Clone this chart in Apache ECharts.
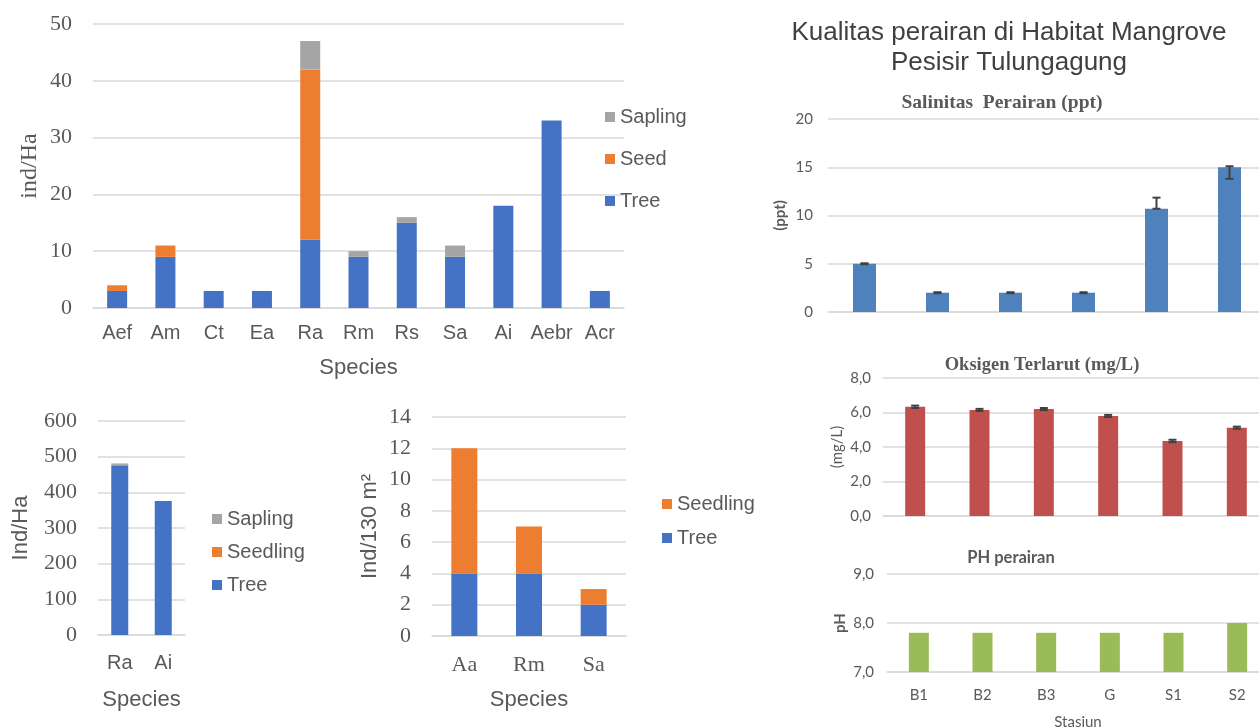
<!DOCTYPE html>
<html>
<head>
<meta charset="utf-8">
<script src="https://cdn.jsdelivr.net/npm/echarts@6/dist/echarts.min.js"></script>
<style>
  html, body { margin: 0; padding: 0; background: #fff; }
  #main { width: 1259px; height: 727px; }
</style>
</head>
<body>
<div id="main"></div>
<script>
// panel 1 - density per species
var species1 = ['Aef', 'Am', 'Ct', 'Ea', 'Ra', 'Rm', 'Rs', 'Sa', 'Ai', 'Aebr', 'Acr'];
var tree1 = [3, 9, 3, 3, 12, 9, 15, 9, 18, 33, 3];
var seed1 = [1, 2, 0, 0, 30, 0, 0, 0, 0, 0, 0];
var sapling1 = [0, 0, 0, 0, 5, 1, 1, 2, 0, 0, 0];

// panel 2
var species2 = ['Ra', 'Ai'];
var tree2 = [474, 376];
var seedling2 = [3, 0];
var sapling2 = [4, 0];

// panel 3
var species3 = ['Aa', 'Rm', 'Sa'];
var tree3 = [4, 4, 2];
var seedling3 = [8, 3, 1];

// water quality
var stations = ['B1', 'B2', 'B3', 'G', 'S1', 'S2'];
var salinity = [5, 2, 2, 2, 10.7, 15];
var salLow = [4.95, 1.95, 1.95, 1.95, 10.7, 13.8];
var salHigh = [5.05, 2.05, 2.05, 2.05, 11.85, 15.1];
var oxygen = [6.33, 6.15, 6.2, 5.8, 4.35, 5.12];
var oxyLow = [6.26, 6.09, 6.14, 5.74, 4.28, 5.06];
var oxyHigh = [6.40, 6.21, 6.26, 5.86, 4.42, 5.18];
var ph = [7.8, 7.8, 7.8, 7.8, 7.8, 8.0];

var SERIF = '"Liberation Serif", "Times New Roman", serif';
var SANS = '"Liberation Sans", Arial, sans-serif';
var CAL = 'Lato, "Open Sans", sans-serif';
var TXT = '#595959';
var GRID = '#D9D9D9';

function errData(low, high) {
	return low.map(function (l, i) { return [i, l, high[i]]; });
}

function errRender(params, api) {
	var lo = api.coord([api.value(0), api.value(1)]);
	var hi = api.coord([api.value(0), api.value(2)]);
	var w = 4;
	var st = { stroke: '#404040', lineWidth: 2 };
	return {
		type: 'group',
		children: [
			{ type: 'line', shape: { x1: lo[0], y1: lo[1], x2: hi[0], y2: hi[1] }, style: st },
			{ type: 'line', shape: { x1: lo[0] - w, y1: lo[1], x2: lo[0] + w, y2: lo[1] }, style: st },
			{ type: 'line', shape: { x1: hi[0] - w, y1: hi[1], x2: hi[0] + w, y2: hi[1] }, style: st }
		]
	};
}

function leftY(min, max, interval, name, nameGap, nameFont, nameSize) {
	return {
		type: 'value', min: min, max: max, interval: interval,
		name: name, nameLocation: 'middle', nameGap: nameGap,
		nameTextStyle: { fontFamily: nameFont, fontSize: nameSize, color: TXT },
		axisLine: { show: false }, axisTick: { show: false },
		axisLabel: { fontFamily: SERIF, fontSize: 22, color: TXT, margin: 21 },
		splitLine: { lineStyle: { color: GRID, width: 1.5 } }
	};
}

function leftX(data, labelFont, labelMargin, nameGap) {
	return {
		type: 'category', data: data,
		name: 'Species', nameLocation: 'middle', nameGap: nameGap,
		nameTextStyle: { fontFamily: SANS, fontSize: 22, color: TXT },
		axisLine: { lineStyle: { color: GRID, width: 1.5 } }, axisTick: { show: false },
		axisLabel: { fontFamily: labelFont, fontSize: labelFont === SERIF ? 22 : 20, color: TXT, margin: labelMargin, interval: 0 }
	};
}

function rightY(min, max, interval, name, nameGap, margin, dec, bold) {
	return {
		type: 'value', min: min, max: max, interval: interval, startValue: min,
		name: name, nameLocation: 'middle', nameGap: nameGap,
		nameTextStyle: { fontFamily: CAL, fontSize: 15, color: TXT, fontWeight: bold ? 'bold' : 'normal' },
		axisLine: { show: false }, axisTick: { show: false },
		axisLabel: {
			fontFamily: CAL, fontSize: 15, color: TXT, margin: margin,
			formatter: function (v) { return dec ? v.toFixed(1).replace('.', ',') : String(v); }
		},
		splitLine: { lineStyle: { color: GRID, width: 1.5 } }
	};
}

function rightX(showLabel) {
	return {
		type: 'category', data: stations,
		name: showLabel ? 'Stasiun' : '', nameLocation: 'middle', nameGap: 43,
		nameTextStyle: { fontFamily: CAL, fontSize: 15, color: TXT },
		axisLine: { lineStyle: { color: GRID, width: 1.5 } }, axisTick: { show: false },
		axisLabel: { show: showLabel, fontFamily: CAL, fontSize: 15, color: TXT, margin: 16 }
	};
}

var chart = echarts.init(document.getElementById('main'));
chart.setOption({
	animation: false,
	backgroundColor: '#fff',
	graphic: [
		{ type: 'text', x: 1009, y: 33, style: { text: 'Kualitas perairan di Habitat Mangrove', fontFamily: SANS, fontSize: 26, fill: '#404040', align: 'center', verticalAlign: 'middle' } },
		{ type: 'text', x: 1009, y: 63, style: { text: 'Pesisir Tulungagung', fontFamily: SANS, fontSize: 26, fill: '#404040', align: 'center', verticalAlign: 'middle' } },
		{ type: 'text', x: 1002, y: 103, style: { text: 'Salinitas  Perairan (ppt)', fontFamily: SERIF, fontWeight: 'bold', fontSize: 19.5, fill: TXT, align: 'center', verticalAlign: 'middle' } },
		{ type: 'text', x: 1042, y: 365, style: { text: 'Oksigen Terlarut (mg/L)', fontFamily: SERIF, fontWeight: 'bold', fontSize: 18.5, fill: TXT, align: 'center', verticalAlign: 'middle' } },
		{ type: 'text', x: 1011, y: 558, style: { text: 'PH perairan', fontFamily: CAL, fontWeight: 'bold', fontSize: 16.5, fill: TXT, align: 'center', verticalAlign: 'middle' } }
	],
	legend: [
		{ left: 600, top: 102, orient: 'vertical', itemWidth: 10, itemHeight: 10, itemGap: 22, icon: 'rect',
			data: ['Sapling', 'Seed', 'Tree'], textStyle: { fontFamily: SANS, fontSize: 20, color: TXT } },
		{ left: 207, top: 504, orient: 'vertical', itemWidth: 10, itemHeight: 10, itemGap: 13, icon: 'rect',
			data: ['Sapling', 'Seedling', 'Tree'], textStyle: { fontFamily: SANS, fontSize: 20, color: TXT } },
		{ left: 657, top: 489, orient: 'vertical', itemWidth: 10, itemHeight: 10, itemGap: 14, icon: 'rect',
			data: ['Seedling', 'Tree'], textStyle: { fontFamily: SANS, fontSize: 20, color: TXT } }
	],
	grid: [
		{ left: 93, top: 24, width: 531, height: 284, outerBoundsMode: 'none' },
		{ left: 98, top: 421, width: 87, height: 214, outerBoundsMode: 'none' },
		{ left: 432, top: 417, width: 194, height: 219, outerBoundsMode: 'none' },
		{ left: 828, top: 119, width: 438, height: 193, outerBoundsMode: 'none' },
		{ left: 883, top: 378, width: 386, height: 138, outerBoundsMode: 'none' },
		{ left: 887, top: 574, width: 382, height: 98, outerBoundsMode: 'none' }
	],
	xAxis: [
		Object.assign(leftX(species1, SANS, 15, 49), { gridIndex: 0 }),
		Object.assign(leftX(species2, SANS, 18, 54), { gridIndex: 1 }),
		Object.assign(leftX(species3, SERIF, 18, 53), { gridIndex: 2 }),
		Object.assign(rightX(false), { gridIndex: 3 }),
		Object.assign(rightX(false), { gridIndex: 4 }),
		Object.assign(rightX(true), { gridIndex: 5 })
	],
	yAxis: [
		Object.assign(leftY(0, 50, 10, 'ind/Ha', 51, SERIF, 24), { gridIndex: 0 }),
		Object.assign(leftY(0, 600, 100, 'Ind/Ha', 66, SANS, 22), { gridIndex: 1 }),
		Object.assign(leftY(0, 14, 2, 'Ind/130 m²', 51, SANS, 22), { gridIndex: 2 }),
		Object.assign(rightY(0, 20, 5, '(ppt)', 40, 15, false, true), { gridIndex: 3 }),
		Object.assign(rightY(0, 8, 2, '(mg/L)', 38, 12, true, false), { gridIndex: 4 }),
		Object.assign(rightY(7, 9, 1, 'pH', 39, 13, true, true), { gridIndex: 5 })
	],
	series: [
		{ name: 'Tree', type: 'bar', stack: 'p1', xAxisIndex: 0, yAxisIndex: 0, barWidth: 20, data: tree1, itemStyle: { color: '#4472C4' } },
		{ name: 'Seed', type: 'bar', stack: 'p1', xAxisIndex: 0, yAxisIndex: 0, barWidth: 20, data: seed1, itemStyle: { color: '#ED7D31' } },
		{ name: 'Sapling', type: 'bar', stack: 'p1', xAxisIndex: 0, yAxisIndex: 0, barWidth: 20, data: sapling1, itemStyle: { color: '#A5A5A5' } },

		{ name: 'Tree', type: 'bar', stack: 'p2', xAxisIndex: 1, yAxisIndex: 1, barWidth: 17, data: tree2, itemStyle: { color: '#4472C4' } },
		{ name: 'Seedling', type: 'bar', stack: 'p2', xAxisIndex: 1, yAxisIndex: 1, barWidth: 17, data: seedling2, itemStyle: { color: '#ED7D31' } },
		{ name: 'Sapling', type: 'bar', stack: 'p2', xAxisIndex: 1, yAxisIndex: 1, barWidth: 17, data: sapling2, itemStyle: { color: '#A5A5A5' } },

		{ name: 'Tree', type: 'bar', stack: 'p3', xAxisIndex: 2, yAxisIndex: 2, barWidth: 26, data: tree3, itemStyle: { color: '#4472C4' } },
		{ name: 'Seedling', type: 'bar', stack: 'p3', xAxisIndex: 2, yAxisIndex: 2, barWidth: 26, data: seedling3, itemStyle: { color: '#ED7D31' } },

		{ name: 'Salinitas', type: 'bar', xAxisIndex: 3, yAxisIndex: 3, barWidth: 23, data: salinity, itemStyle: { color: '#4F81BD' } },
		{ name: 'salErr', type: 'custom', xAxisIndex: 3, yAxisIndex: 3, data: errData(salLow, salHigh), renderItem: errRender, z: 5 },

		{ name: 'Oksigen', type: 'bar', xAxisIndex: 4, yAxisIndex: 4, barWidth: 20, data: oxygen, itemStyle: { color: '#C0504D' } },
		{ name: 'oxyErr', type: 'custom', xAxisIndex: 4, yAxisIndex: 4, data: errData(oxyLow, oxyHigh), renderItem: errRender, z: 5 },

		{ name: 'pH', type: 'bar', xAxisIndex: 5, yAxisIndex: 5, barWidth: 20, data: ph, itemStyle: { color: '#9BBB59' } }
	]
});
</script>
</body>
</html>
